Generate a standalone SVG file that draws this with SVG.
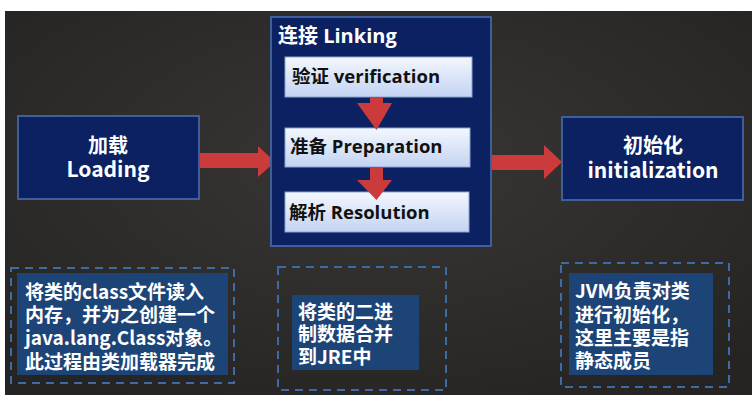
<svg xmlns="http://www.w3.org/2000/svg" width="752" height="395" viewBox="0 0 752 395">
<defs>
<style>
.t{font-family:"Noto Sans CJK SC","Microsoft YaHei","Open Sans",sans-serif;font-weight:bold;}
.l{font-family:"Open Sans","Noto Sans CJK SC",sans-serif;font-weight:bold;}
.w{fill:#ffffff;}
.k{fill:#111111;}
.main{fill:#0b2162;stroke:#3f5e9c;stroke-width:2;}
.sub{fill:url(#subg);stroke:#8aa4d0;stroke-width:1;}
.dash{fill:none;stroke:#3e6aa8;stroke-width:2;stroke-dasharray:8 6;}
.note{fill:#1d4476;}
.arr{fill:#cc3b3b;}
</style>
<linearGradient id="subg" x1="0" y1="0" x2="0" y2="1">
<stop offset="0" stop-color="#f4f7fd"/>
<stop offset="1" stop-color="#c3d3f2"/>
</linearGradient>
<radialGradient id="bg" cx="0.5" cy="0.4" r="0.7">
<stop offset="0" stop-color="#383735"/>
<stop offset="1" stop-color="#252422"/>
</radialGradient>
</defs>
<rect x="0" y="0" width="752" height="395" fill="#ffffff"/>
<rect x="5" y="11" width="747" height="384" fill="url(#bg)"/>

<g id="connectors">
<polygon class="arr" points="198,153 258,153 258,146 275,162 258,177 258,168 198,168"/>
<polygon class="arr" points="490,155 544,155 544,145 562,162 544,179 544,170 490,170"/>
</g>

<g id="loading">
<rect class="main" x="18" y="116" width="181" height="83"/>
<text class="t w" x="108" y="153" font-size="20" text-anchor="middle">加载</text>
<text class="t w" x="108" y="177" font-size="21" text-anchor="middle">Loading</text>
</g>

<g id="linking">
<rect class="main" x="271" y="17" width="220" height="229"/>
<text class="l w" x="278" y="43" font-size="20">连接 Linking</text>
<g id="verification">
<rect class="sub" x="285" y="57" width="187" height="40"/>
<text class="l k" x="292" y="83" font-size="18.5">验证 verification</text>
</g>
<g id="preparation">
<rect class="sub" x="285" y="128" width="185" height="39"/>
<text class="l k" x="290" y="153" font-size="18.5">准备 Preparation</text>
</g>
<g id="resolution">
<rect class="sub" x="285" y="192" width="184" height="40"/>
<text class="l k" x="289" y="219" font-size="18.5">解析 Resolution</text>
</g>
<g id="linking-arrows">
<polygon class="arr" points="370,97 383,97 383,103 392,103 376.5,130 357,103 370,103"/>
<polygon class="arr" points="370,167 383,167 383,180 392,180 376.5,200 357,180 370,180"/>
</g>
</g>

<g id="initialization">
<rect class="main" x="562" y="117" width="181" height="83"/>
<text class="t w" x="653" y="153" font-size="20" text-anchor="middle">初始化</text>
<text class="t w" x="653" y="178" font-size="21" text-anchor="middle">initialization</text>
</g>

<g id="note-loading">
<rect class="dash" x="11" y="268" width="223" height="115"/>
<rect class="note" x="17" y="273" width="211" height="102"/>
<text class="t w" font-size="19">
<tspan x="25" y="299">将类的class文件读入</tspan>
<tspan x="25" y="322">内存，并为之创建一个</tspan>
<tspan x="25" y="345">java.lang.Class对象。</tspan>
<tspan x="25" y="369">此过程由类加载器完成</tspan>
</text>
</g>

<g id="note-linking">
<rect class="dash" x="278" y="267" width="168" height="123"/>
<rect class="note" x="292" y="295" width="127" height="75"/>
<text class="t w" font-size="19">
<tspan x="298" y="319">将类的二进</tspan>
<tspan x="298" y="341">制数据合并</tspan>
<tspan x="298" y="364">到JRE中</tspan>
</text>
</g>

<g id="note-init">
<rect class="dash" x="561" y="263" width="168" height="124"/>
<rect class="note" x="569" y="273" width="144" height="102"/>
<text class="t w" font-size="19">
<tspan x="575" y="298">JVM负责对类</tspan>
<tspan x="575" y="322">进行初始化，</tspan>
<tspan x="575" y="345">这里主要是指</tspan>
<tspan x="575" y="368">静态成员</tspan>
</text>
</g>
</svg>
